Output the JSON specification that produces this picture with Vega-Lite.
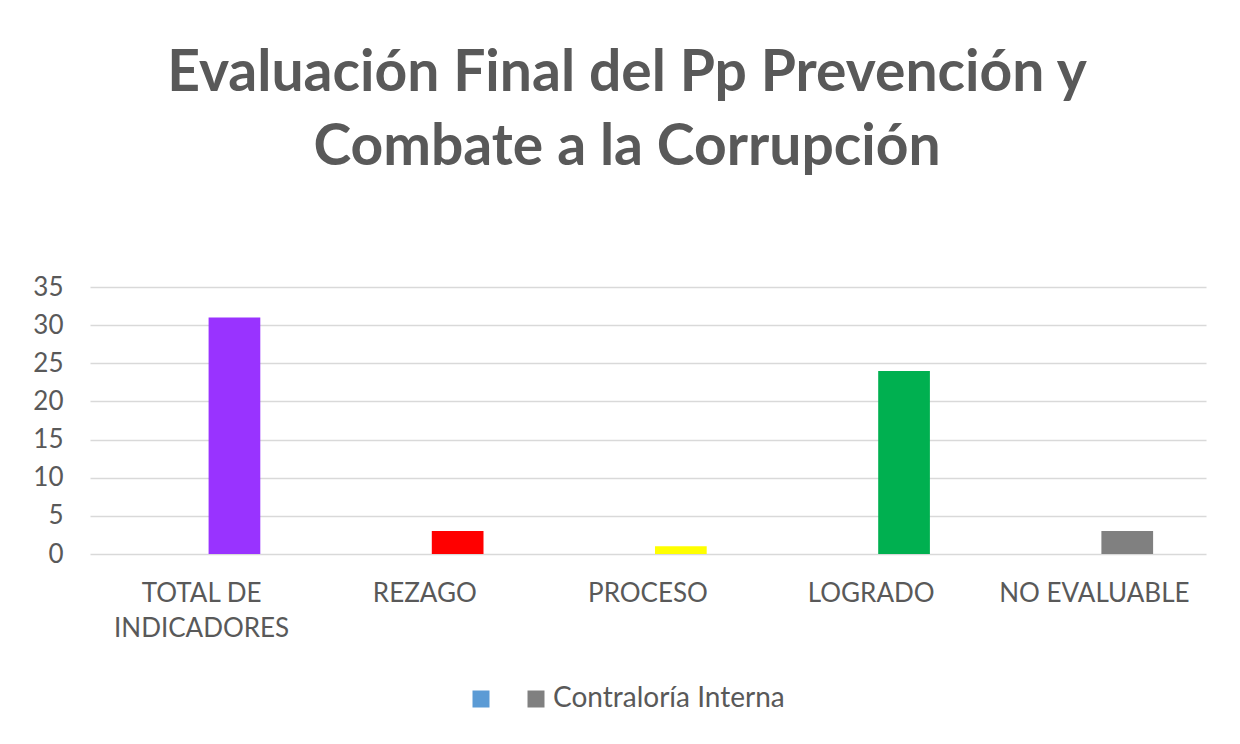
{
  "$schema": "https://vega.github.io/schema/vega-lite/v6.json",
  "width": 1116,
  "height": 267,
  "autosize": {"type": "none"},
  "padding": {"left": 90, "top": 287, "right": 34, "bottom": 190},
  "background": "white",
  "title": {
    "text": ["Evaluación Final del Pp Prevención y", "Combate a la Corrupción"],
    "font": "Lato",
    "fontSize": 57,
    "fontWeight": "bold",
    "color": "#595959",
    "anchor": "middle",
    "dx": -21,
    "offset": 97,
    "lineHeight": 74
  },
  "data": {
    "values": [
      {"categoria": "TOTAL DE INDICADORES", "serie": "s1", "clave": "s1", "valor": null},
      {"categoria": "TOTAL DE INDICADORES", "serie": "Contraloría Interna", "clave": "total", "valor": 31},
      {"categoria": "REZAGO", "serie": "s1", "clave": "s1", "valor": null},
      {"categoria": "REZAGO", "serie": "Contraloría Interna", "clave": "rezago", "valor": 3},
      {"categoria": "PROCESO", "serie": "s1", "clave": "s1", "valor": null},
      {"categoria": "PROCESO", "serie": "Contraloría Interna", "clave": "proceso", "valor": 1},
      {"categoria": "LOGRADO", "serie": "s1", "clave": "s1", "valor": null},
      {"categoria": "LOGRADO", "serie": "Contraloría Interna", "clave": "logrado", "valor": 24},
      {"categoria": "NO EVALUABLE", "serie": "s1", "clave": "s1", "valor": null},
      {"categoria": "NO EVALUABLE", "serie": "Contraloría Interna", "clave": "Contraloría Interna", "valor": 3}
    ]
  },
  "mark": {"type": "bar"},
  "encoding": {
    "x": {
      "field": "categoria",
      "type": "nominal",
      "sort": null,
      "scale": {"paddingInner": 0.474, "paddingOuter": 0.237},
      "axis": {
        "title": null,
        "labelAngle": 0,
        "labelFont": "Lato",
        "labelFontSize": 26,
        "labelColor": "#595959",
        "labelPadding": 26,
        "labelLineHeight": 35,
        "labelBaseline": "top",
        "labelLimit": 0,
        "ticks": false,
        "domain": false,
        "labelExpr": "datum.label == 'TOTAL DE INDICADORES' ? ['TOTAL DE', 'INDICADORES'] : datum.label"
      }
    },
    "xOffset": {
      "field": "serie",
      "type": "nominal",
      "scale": {"domain": ["s1", "Contraloría Interna"], "paddingInner": 0.213, "paddingOuter": 0}
    },
    "y": {
      "field": "valor",
      "type": "quantitative",
      "scale": {"domain": [0, 35]},
      "axis": {
        "title": null,
        "values": [0, 5, 10, 15, 20, 25, 30, 35],
        "labelFont": "Lato",
        "labelFontSize": 26,
        "labelColor": "#595959",
        "labelPadding": 27,
        "ticks": false,
        "domain": false,
        "grid": true,
        "gridColor": "#D9D9D9",
        "gridWidth": 1.5
      }
    },
    "color": {
      "field": "clave",
      "type": "nominal",
      "scale": {
        "domain": ["s1", "Contraloría Interna", "total", "rezago", "proceso", "logrado"],
        "range": ["#5B9BD5", "#808080", "#9933FF", "#FF0000", "#FFFF00", "#00B050"]
      },
      "legend": {
        "title": null,
        "values": ["s1", "Contraloría Interna"],
        "labelExpr": "datum.label == 's1' ? '' : datum.label",
        "orient": "none",
        "direction": "horizontal",
        "legendX": 377,
        "legendY": 398,
        "padding": 0,
        "symbolType": "square",
        "symbolSize": 289,
        "symbolStrokeWidth": 0,
        "symbolOpacity": 1,
        "labelFont": "Lato",
        "labelFontSize": 28,
        "labelColor": "#595959",
        "labelLimit": 0,
        "labelOffset": 3,
        "columnPadding": 24
      }
    }
  },
  "config": {
    "view": {"stroke": null}
  }
}
